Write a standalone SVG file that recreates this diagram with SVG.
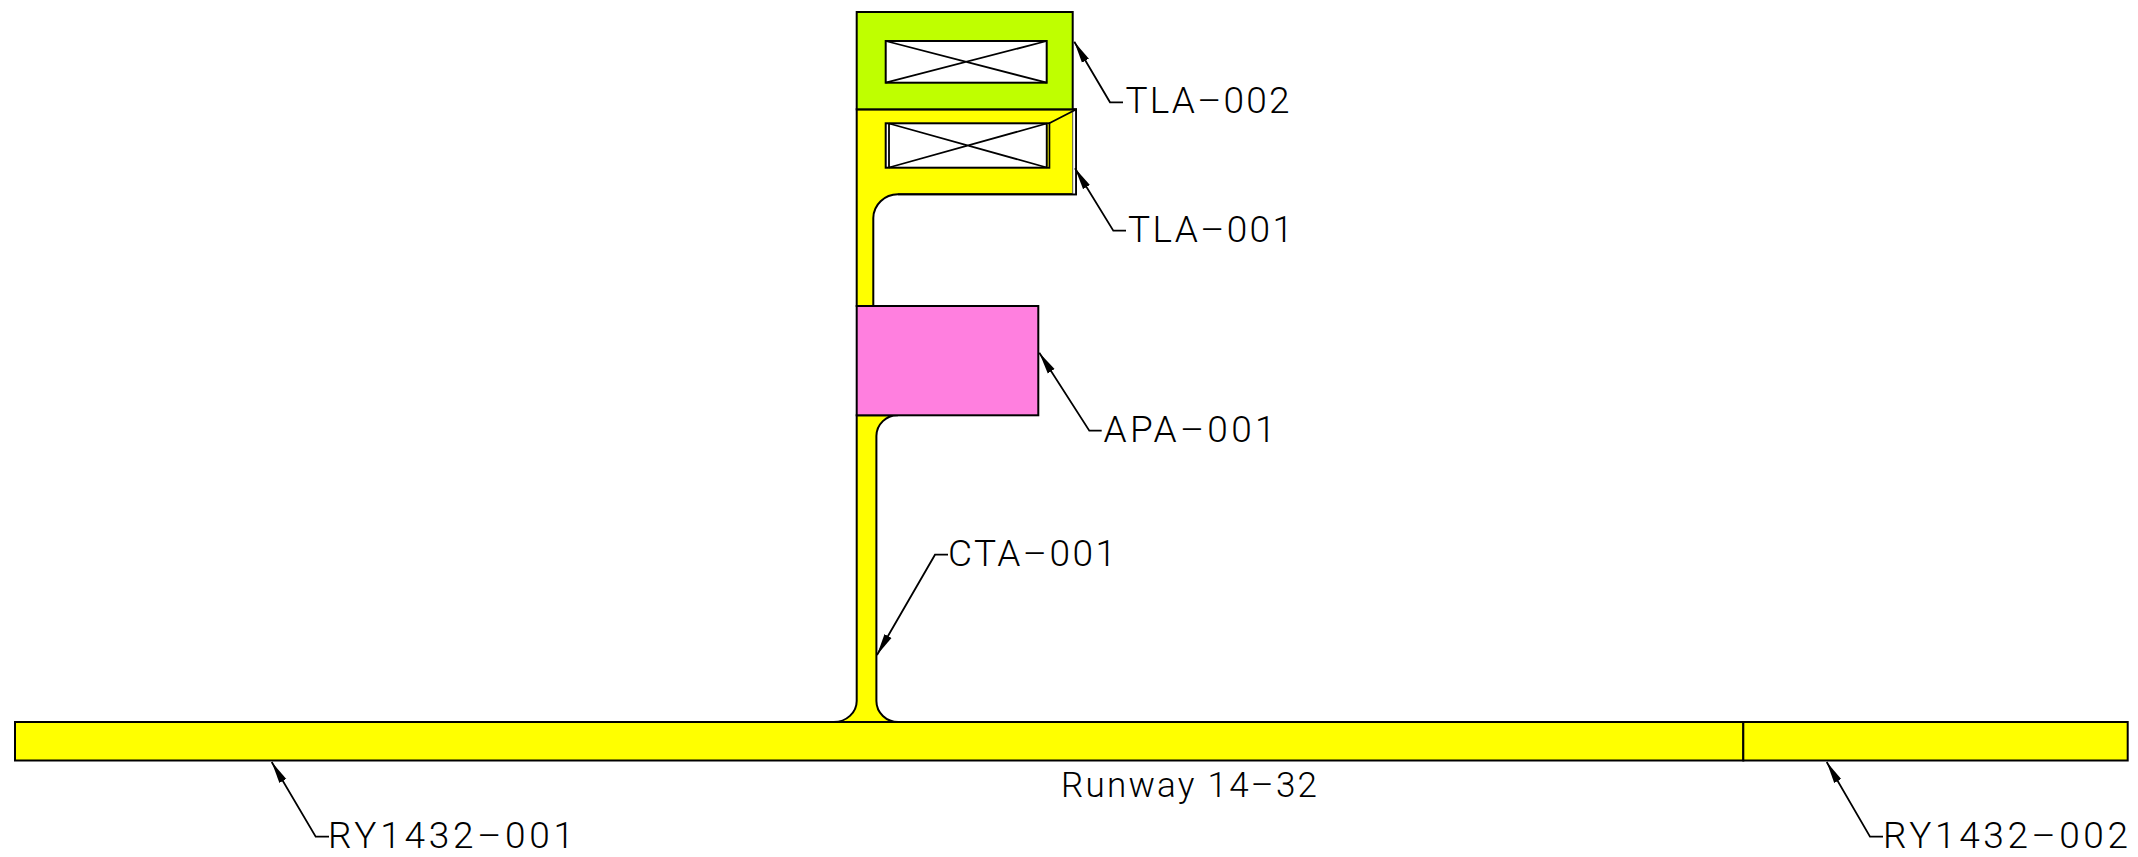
<svg xmlns="http://www.w3.org/2000/svg" width="2138" height="857" viewBox="0 0 2138 857">
<style>
.s{stroke:#000;stroke-width:2;stroke-linejoin:miter}
.y{fill:#ffff00}.g{fill:#bfff00}.p{fill:#ff7fdf}.w{fill:#fff}
.n{fill:none;stroke:#000;stroke-width:1.8}
.t{font-family:"Roboto","Liberation Sans",sans-serif;font-weight:300;font-size:37px;fill:#000}
.r{font-size:35px}
.l{fill:none;stroke:#000;stroke-width:1.8}
</style>
<defs>
<marker id="a" markerUnits="userSpaceOnUse" markerWidth="24" markerHeight="12" refX="22" refY="5" orient="auto"><path d="M0 1 L22 5 L0 9 Z" fill="#000"/></marker>
</defs>
<rect width="2138" height="857" fill="#fff"/>
<g id="RY1432-001">
<rect class="s y" x="15" y="722" width="1728.3" height="38.500"/>
<text class="t" x="328" y="848" textLength="246" lengthAdjust="spacing">RY1432–001</text>
</g>
<g id="RY1432-002">
<rect class="s y" x="1743.300" y="722" width="384.400" height="38.500"/>
<text class="t" x="1883" y="848" textLength="245" lengthAdjust="spacing">RY1432–002</text>
</g>
<g id="CTA-001">
<path class="s y" d="M856.700 415.300H898A21 21 0 0 0 876.400 436V701A22 21 0 0 0 898.600 722H833.600A23 21 0 0 0 856.700 701Z"/>
<text class="t" x="948" y="565.700" textLength="168" lengthAdjust="spacing">CTA–001</text>
</g>
<g id="TLA-001">
<path class="s y" d="M856.700 109.300H1076V194.300H898A24.700 24 0 0 0 873.300 218V306H856.700Z"/>
<path d="M1072.700 109.300H1076V194.300H1072.700Z" fill="#fff"/>
<path d="M1072.700 109.300V194.300" fill="none" stroke="#555" stroke-width="1"/>
<path d="M856.700 109.300H1076V194.300H898" class="n"/>
<rect class="s w" x="885.700" y="123.300" width="163.600" height="44.400"/>
<rect x="1047" y="124.300" width="2" height="42.400" fill="#a8a800"/>
<path class="n" d="M889 123.300V167.700M1046.700 123.300V167.700M889 123.500L1046.700 167.500M889 167.500L1046.700 123.500M1049.300 123.300L1076 109.500"/>
<text class="t" x="1128" y="241.700" textLength="165" lengthAdjust="spacing">TLA–001</text>
</g>
<g id="TLA-002">
<rect class="s g" x="856.700" y="12" width="216" height="97.300"/>
<rect class="s w" x="885.700" y="41" width="161" height="41.700"/>
<path class="n" d="M885.700 41L1046.700 82.700M885.700 82.700L1046.700 41"/>
<text class="t" x="1125.500" y="113.300" textLength="164" lengthAdjust="spacing">TLA–002</text>
</g>
<g id="APA-001">
<rect class="s p" x="856.700" y="306" width="181.600" height="109.300"/>
<text class="t" x="1103.500" y="441.500" textLength="172" lengthAdjust="spacing">APA–001</text>
</g>
<g id="Runway-label">
<text class="t r" x="1061" y="796.500" textLength="256" lengthAdjust="spacing">Runway 14–32</text>
</g>
<g id="connectors">
<path class="l" marker-end="url(#a)" d="M1123 102.300H1110L1074.300 41.700"/>
<path class="l" marker-end="url(#a)" d="M1126 230.700H1113.300L1075 168.300"/>
<path class="l" marker-end="url(#a)" d="M1101.700 430.700H1089.300L1039.300 352.700"/>
<path class="l" marker-end="url(#a)" d="M948 554.700H935L877 655"/>
<path class="l" marker-end="url(#a)" d="M329 836.700H315.700L271.700 762"/>
<path class="l" marker-end="url(#a)" d="M1883 836.700H1870L1826.700 762"/>
</g>
</svg>
